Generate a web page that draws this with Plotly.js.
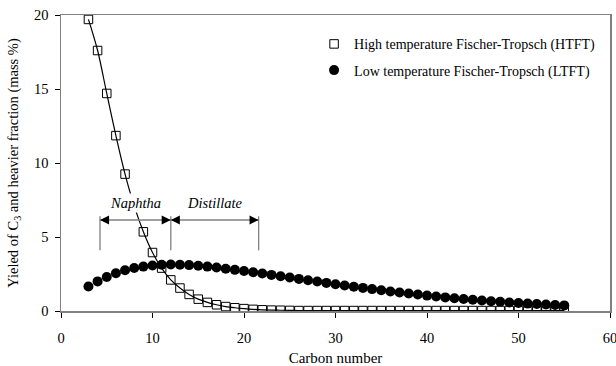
<!DOCTYPE html>
<html>
<head>
<meta charset="utf-8">
<script src="https://cdn.plot.ly/plotly-3.0.1.min.js"></script>
<style>html,body{margin:0;padding:0;background:#fff;}#chart{width:616px;height:366px;}</style>
</head>
<body>
<div id="chart"></div>
<script>
var carbon = [3,4,5,6,7,8,9,10,11,12,13,14,15,16,17,18,19,20,21,22,23,24,25,26,27,28,29,30,31,32,33,34,35,36,37,38,39,40,41,42,43,44,45,46,47,48,49,50,51,52,53,54,55];
var htft = [19.7,17.6,14.7,11.85,9.25,7.1,5.35,3.95,2.9,2.1,1.55,1.12,0.8,0.58,0.42,0.3,0.22,0.16,0.11,0.08,0.06,0.05,0.04,0.03,0.03,0.03,0.03,0.03,0.03,0.03,0.03,0.03,0.03,0.03,0.03,0.03,0.03,0.03,0.03,0.03,0.03,0.03,0.03,0.03,0.03,0.03,0.03,0.03,0.03,0.03,0.03,0.03,0.03];
var ltft = [1.65,2.0,2.3,2.55,2.75,2.9,3.0,3.08,3.12,3.14,3.13,3.1,3.06,3.0,2.94,2.86,2.78,2.7,2.62,2.53,2.44,2.35,2.26,2.17,2.08,1.99,1.9,1.81,1.72,1.64,1.56,1.48,1.4,1.32,1.25,1.18,1.11,1.04,0.98,0.92,0.86,0.81,0.76,0.71,0.66,0.62,0.58,0.54,0.5,0.47,0.44,0.41,0.38];
var seriesNames = ["High temperature Fischer-Tropsch (HTFT)", "Low temperature Fischer-Tropsch (LTFT)"];
var xTicks = [0,10,20,30,40,50,60];
var yTicks = [0,5,10,15,20];
var rangeLabels = ["Naphtha", "Distillate"];
var rangeBounds = [4.26, 12.0, 21.6];

var serif = "Liberation Serif, Times New Roman, serif";
var axisColor = "#808080";

var traces = [
  {x: carbon, y: htft, type: "scatter", mode: "lines", line: {color: "#000", width: 1.2, shape: "spline"}, showlegend: false, hoverinfo: "skip"},
  {x: carbon, y: ltft, type: "scatter", mode: "markers", name: seriesNames[1], legendgroup: "l", legendrank: 2,
   marker: {symbol: "circle", size: 10, color: "#000", line: {width: 0}}},
  {x: carbon, y: htft, type: "scatter", mode: "markers", name: seriesNames[0], legendgroup: "h", legendrank: 1,
   marker: {symbol: "square-open", size: 8.5, color: "#000", line: {width: 1, color: "#000"}}}
];

var yArrow = 6.15, yLineTop = 6.4, yLineBot = 4.1, yLabel = 7.3;
var shapes = [];
rangeBounds.forEach(function(b){
  shapes.push({type: "line", xref: "x", yref: "y", x0: b, x1: b, y0: yLineBot, y1: yLineTop, line: {color: "#808080", width: 1.3}});
});
for (var i = 0; i < 2; i++) {
  shapes.push({type: "line", xref: "x", yref: "y", x0: rangeBounds[i], x1: rangeBounds[i+1], y0: yArrow, y1: yArrow, line: {color: "#808080", width: 1.3}});
}
var annotations = [];
for (var i = 0; i < 2; i++) {
  annotations.push({x: (rangeBounds[i] + rangeBounds[i+1]) / 2, y: yLabel, xref: "x", yref: "y", text: rangeLabels[i],
    showarrow: false, bgcolor: "#fff", font: {family: serif, size: 14.5, color: "#000", style: "italic"}});
  annotations.push({x: rangeBounds[i], y: yArrow, xref: "x", yref: "y", text: "", showarrow: true,
    ax: 9, ay: 0, arrowhead: 2, arrowsize: 1.4, arrowwidth: 1.3, arrowcolor: "#000", standoff: 0});
  annotations.push({x: rangeBounds[i+1], y: yArrow, xref: "x", yref: "y", text: "", showarrow: true,
    ax: -9, ay: 0, arrowhead: 2, arrowsize: 1.4, arrowwidth: 1.3, arrowcolor: "#000", standoff: 0});
}

var layout = {
  width: 616, height: 366,
  margin: {l: 61, r: 6, t: 15, b: 55},
  paper_bgcolor: "#fff", plot_bgcolor: "#fff",
  font: {family: serif, size: 14, color: "#000"},
  showlegend: true,
  legend: {x: 0.461, y: 0.955, xanchor: "left", yanchor: "top", bgcolor: "rgba(0,0,0,0)",
    font: {family: serif, size: 14, color: "#000"}, traceorder: "grouped", tracegroupgap: 5},
  xaxis: {range: [0, 60], tickvals: xTicks, ticktext: xTicks.map(String), showgrid: false, zeroline: false,
    showline: true, linecolor: axisColor, linewidth: 1.5, mirror: true, ticks: "outside", ticklen: 5, tickcolor: "#000", tickwidth: 1,
    ticklabeloverflow: "allow", ticklabelstandoff: 8,
    tickfont: {family: serif, size: 14.5}, title: {text: "Carbon number", font: {family: serif, size: 15}, standoff: 8}},
  yaxis: {range: [0, 20], tickvals: yTicks, ticktext: yTicks.map(String), showgrid: false, zeroline: false,
    showline: true, linecolor: axisColor, linewidth: 1.5, mirror: true, ticks: "outside", ticklen: 5, tickcolor: "#000", tickwidth: 1,
    ticklabeloverflow: "allow", ticklabelstandoff: 3,
    tickfont: {family: serif, size: 14.5}, title: {text: "Yieled of C<sub>3</sub> and heavier fraction (mass %)", font: {family: serif, size: 14.5}, standoff: 12}},
  shapes: shapes,
  annotations: annotations
};

Plotly.newPlot("chart", traces, layout, {displayModeBar: false, staticPlot: true});
</script>
</body>
</html>
